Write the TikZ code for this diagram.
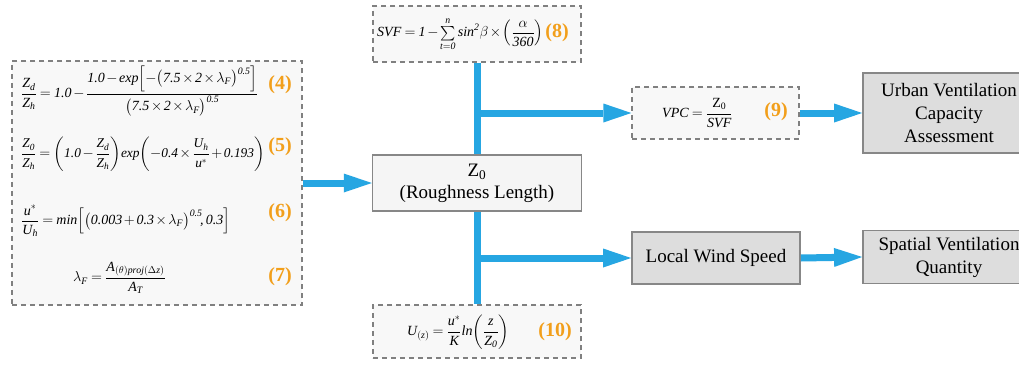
\documentclass[tikz,border=0pt]{standalone}
\usepackage{amsmath}
\usepackage{fontspec}
\setmainfont{Liberation Serif}
% Times-like italic letters and digits in formulas, Greek from cmmi
\DeclareSymbolFont{letters}{TU}{\rmdefault}{m}{it}
\DeclareSymbolFont{greek}{OML}{cmm}{m}{it}
\DeclareMathSymbol{\alpha}{\mathord}{greek}{"0B}
\DeclareMathSymbol{\beta}{\mathord}{greek}{"0C}
\DeclareMathSymbol{\theta}{\mathord}{greek}{"12}
\DeclareMathSymbol{\lambda}{\mathord}{greek}{"15}
\DeclareMathSymbol{\Delta}{\mathord}{greek}{"01}
\newcommand\italicdigits{%
  \mathcode`0="7130 \mathcode`1="7131 \mathcode`2="7132 \mathcode`3="7133
  \mathcode`4="7134 \mathcode`5="7135 \mathcode`6="7136 \mathcode`7="7137
  \mathcode`8="7138 \mathcode`9="7139
  \mathcode`.="012E \mathcode`,="612C
  \medmuskip=2mu plus 1mu minus 1mu \thickmuskip=4mu plus 2mu}
\usetikzlibrary{arrows.meta}
\definecolor{flowblue}{RGB}{38,166,226}
\definecolor{dashgray}{RGB}{128,128,128}
\definecolor{dashfill}{RGB}{248,248,248}
\definecolor{lightfill}{RGB}{245,245,245}
\definecolor{boxgray}{RGB}{221,221,221}
\definecolor{edgegray}{RGB}{135,135,135}
\definecolor{eqorange}{RGB}{242,159,27}
\begin{document}
\begin{tikzpicture}[x=1pt,y=-1pt,
  dashbox/.style={draw=dashgray, fill=dashfill, line width=1.3pt,
    dash pattern=on 5pt off 4pt, inner sep=0pt},
  lightbox/.style={draw=edgegray, fill=lightfill, line width=1.5pt, inner sep=0pt,
    align=center, font=\fontsize{19}{22}\selectfont},
  greybox/.style={draw=edgegray, fill=boxgray, line width=1.8pt, inner sep=0pt,
    align=center, font=\fontsize{19}{23}\selectfont},
  eq/.style={inner sep=0pt, anchor=west, font=\fontsize{14}{17}\selectfont\italicdigits},
  eqnum/.style={inner sep=0pt, text=eqorange, font=\bfseries\fontsize{20}{24}\selectfont},
  trunk/.style={draw=flowblue, line width=7pt},
  flow/.style={draw=flowblue, line width=7pt,
    -{Triangle[length=28pt,width=19pt,line width=0pt]}}]
\useasboundingbox (0,0) rectangle (1019,364);
\clip (0,0) rectangle (1019,364);
\fill[white] (0,0) rectangle (1019,364);

% parameter equations (4)-(7)
\node[dashbox, minimum width=290pt, minimum height=244pt] (params) at (157,183) {};
\node[eq] (eqa) at (21,91) {$\displaystyle \frac{Z_d}{Z_h}=1.0-\frac{1.0-exp\Bigl[-\bigl(7.5\times2\times\lambda_F\bigr)^{0.5}\Bigr]}{\bigl(7.5\times2\times\lambda_F\bigr)^{0.5}}$};
\node[eqnum] (na) at (280,85) {(4)};
\node[eq, font=\fontsize{13.4}{16}\selectfont\italicdigits] (eqb) at (21,154) {$\displaystyle \frac{Z_0}{Z_h}={\left(1.0-\frac{Z_d}{Z_h}\right)}exp{\left(-0.4\times\frac{U_h}{u^*}+0.193\right)}$};
\node[eqnum] (nb) at (280,147) {(5)};
\node[eq] (eqc) at (21,221) {$\displaystyle \frac{u^*}{U_h}=min\Bigl[\bigl(0.003+0.3\times\lambda_F\bigr)^{0.5}\!,0.3\Bigr]$};
\node[eqnum] (nc) at (280,213) {(6)};
\node[eq] (eqd) at (73,278) {$\displaystyle \lambda_F=\frac{A_{(\theta)proj(\Delta z)}}{A_T}$};
\node[eqnum] (nd) at (280,277) {(7)};

% sky view factor (8)
\node[dashbox, minimum width=208pt, minimum height=56pt] (svf) at (477,34) {};
\node[eq] (eqe) at (377,34) {$\displaystyle SVF=1-{\textstyle\sum\limits_{t=0}^{n}}\,sin^2\beta\times{\left(\frac{\alpha}{360}\right)}$};
\node[eqnum] (ne) at (557,33) {(8)};

% roughness length
\node[lightbox, minimum width=209pt, minimum height=56pt] (z0) at (477,183)
  {Z\textsubscript{0}\\(Roughness Length)};

% wind profile (10)
\node[dashbox, minimum width=208pt, minimum height=53pt] (uz) at (477,331.5) {};
\node[eq] (eqf) at (407,332) {$\displaystyle U_{(z)}=\frac{u^*}{K}ln{\left(\frac{z}{Z_0}\right)}$};
\node[eqnum] (nf) at (555,332) {(10)};

% ventilation potential (9)
\node[dashbox, minimum width=167pt, minimum height=52pt] (vpc) at (715.5,113) {};
\node[eq] (eqg) at (662,113) {$\displaystyle VPC=\frac{\mathrm{Z}_{\mathrm{0}}}{SVF}$};
\node[eqnum] (ng) at (776,112) {(9)};

\node[greybox, minimum width=168pt, minimum height=52pt] (lws) at (716,258) {Local Wind Speed};
\node[greybox, minimum width=172pt, minimum height=80pt] (urban) at (949,113)
  {Urban Ventilation\\Capacity\\Assessment};
\node[greybox, minimum width=172pt, minimum height=53pt] (spatial) at (949,257)
  {Spatial Ventilation\\Quantity};

% connectors
\draw[trunk] (svf.south) -- (z0.north);
\draw[trunk] (z0.south) -- (uz.north);
\draw[flow] (z0.north |- vpc.west) -- (vpc.west);
\draw[flow] (z0.south |- lws.west) -- (lws.west);
\draw[flow] (params.east) -- (z0.west);
\draw[flow] (vpc.east) -- (urban.west);
\draw[flow] (lws.east) -- (spatial.west);
\end{tikzpicture}
\end{document}
